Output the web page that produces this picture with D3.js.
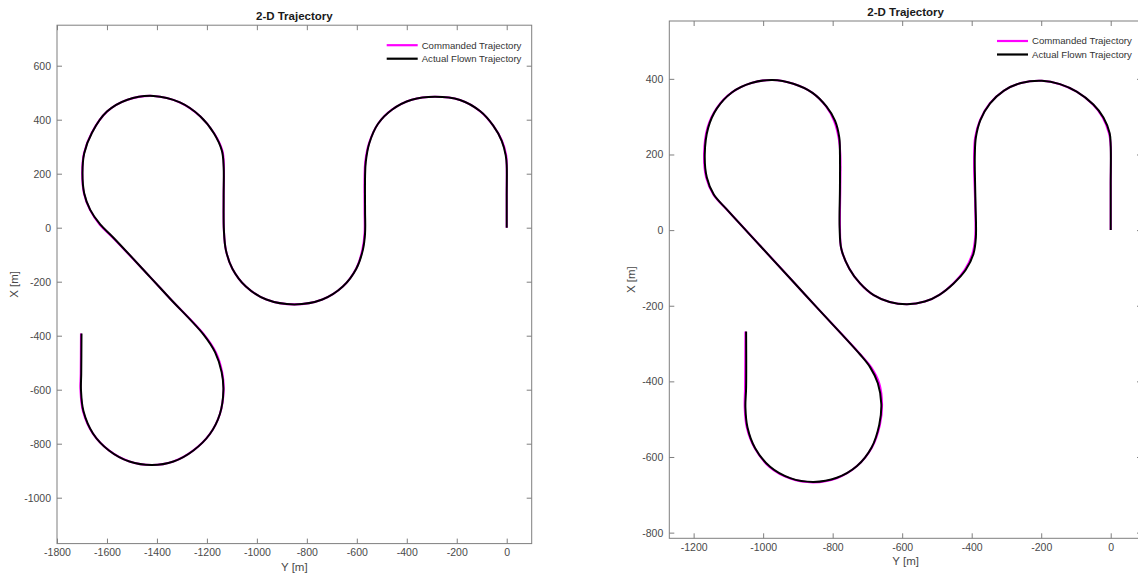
<!DOCTYPE html>
<html>
<head>
<meta charset="utf-8">
<script src="https://cdn.jsdelivr.net/npm/d3@7/dist/d3.min.js"></script>
<style>
  html, body { margin: 0; padding: 0; background: #ffffff; }
  svg { display: block; }
  text { font-family: "Liberation Sans", Arial, Helvetica, sans-serif; }
</style>
</head>
<body>
<svg id="chart" width="1138" height="575"></svg>
<script>
// ---------- DATA ----------
// Each point is [Y (m), X (m)]  -> horizontal axis is Y, vertical axis is X
const titleText = "2-D Trajectory";
const xAxisLabel = "Y [m]";
const yAxisLabel = "X [m]";
const seriesNames = ["Commanded Trajectory", "Actual Flown Trajectory"];

// Left panel
const leftYTicks = [-1800, -1600, -1400, -1200, -1000, -800, -600, -400, -200, 0];
const leftXTicks = [-1000, -800, -600, -400, -200, 0, 200, 400, 600];
const leftYLimits = [-1800, 100];
const leftXLimits = [-1170, 750];

const leftActual = [
  [0,0],[0,120],[0,232],[-4,268],[-20,322],[-54,378],[-107,432],[-187,473],[-287,485],
  [-380,474],[-458,438],[-515,385],[-550,313],[-564,245],[-567,189],[-567,66],[-567,-21],
  [-576,-83],[-602,-152],[-656,-218],[-738,-266],[-850,-284],[-962,-266],[-1044,-218],
  [-1098,-152],[-1124,-83],[-1132,-9],[-1133,115],[-1133,226],[-1140,285],[-1172,350],
  [-1226,412],[-1308,464],[-1414,488],[-1518,474],[-1600,430],[-1660,352],[-1691,276],
  [-1698,202],[-1691,127],[-1667,66],[-1627,12],[-1574,-37],[-1427,-183],[-1347,-263],
  [-1214,-395],[-1167,-462],[-1141,-535],[-1134,-601],[-1148,-690],[-1188,-764],
  [-1254,-825],[-1334,-866],[-1420,-879],[-1510,-866],[-1592,-825],[-1656,-762],
  [-1694,-680],[-1704,-601],[-1703,-539],[-1702,-392]
];
const leftCommanded = [
  [0,0],[0,120],[0,232],[-2,268],[-19,322],[-54,378],[-107,432],[-187,473],[-287,485],
  [-380,474],[-458,438],[-515,385],[-551,313],[-566,245],[-569,189],[-569,66],[-569,-21],
  [-578,-83],[-603,-152],[-656,-218],[-738,-266],[-850,-284],[-962,-266],[-1044,-218],
  [-1098,-152],[-1124,-83],[-1132,-9],[-1133,115],[-1132,226],[-1138,285],[-1171,350],
  [-1226,412],[-1308,464],[-1414,488],[-1518,474],[-1600,430],[-1661,352],[-1692,276],
  [-1699,202],[-1692,127],[-1668,66],[-1629,12],[-1576,-37],[-1427,-183],[-1347,-263],
  [-1212,-395],[-1164,-462],[-1139,-535],[-1133,-601],[-1148,-690],[-1188,-764],
  [-1254,-825],[-1334,-866],[-1420,-879],[-1510,-866],[-1592,-825],[-1657,-762],
  [-1696,-680],[-1706,-601],[-1705,-539],[-1704,-392]
];

// Right panel
const rightYTicks = [-1200, -1000, -800, -600, -400, -200, 0];
const rightXTicks = [-800, -600, -400, -200, 0, 200, 400];
const rightYLimits = [-1270, 90];
const rightXLimits = [-815, 553];

const rightActual = [
  [0,0],[0,120],[0,222],[-3,256],[-21,298],[-50,332],[-98,366],[-146,386],[-198,395],
  [-258,389],[-307,369],[-347,335],[-375,291],[-388,245],[-391,201],[-391,157],[-389,69],
  [-388,-20],[-395,-63],[-417,-105],[-452,-141],[-493,-171],[-535,-189],[-586,-196],
  [-636,-190],[-682,-172],[-721,-141],[-752,-102],[-775,-50],[-780,7],[-779,113],
  [-779,201],[-781,245],[-793,289],[-818,327],[-858,363],[-913,387],[-973,397],
  [-1034,389],[-1090,364],[-1133,322],[-1158,271],[-1168,201],[-1162,139],[-1142,94],
  [-1104,54],[-1008,-42],[-912,-138],[-845,-205],[-721,-329],[-692,-363],[-670,-405],
  [-660,-460],[-666,-515],[-688,-575],[-730,-624],[-788,-655],[-855,-666],[-922,-656],
  [-980,-626],[-1023,-577],[-1045,-522],[-1051,-469],[-1049,-416],[-1049,-268]
];
const rightCommanded = [
  [0,0],[0,120],[0,222],[-5,256],[-23,298],[-51,332],[-98,366],[-146,386],[-198,395],
  [-258,389],[-307,369],[-348,335],[-376,291],[-390,245],[-393,201],[-393,157],[-390,69],
  [-390,-20],[-398,-63],[-420,-105],[-453,-141],[-493,-171],[-535,-189],[-586,-196],
  [-636,-190],[-682,-172],[-721,-141],[-752,-102],[-775,-50],[-779,7],[-778,113],
  [-778,201],[-783,245],[-796,289],[-819,327],[-858,363],[-913,387],[-973,397],
  [-1034,389],[-1090,364],[-1134,322],[-1160,271],[-1170,201],[-1164,139],[-1143,94],
  [-1104,54],[-1008,-42],[-912,-138],[-845,-205],[-720,-329],[-689,-363],[-666,-405],
  [-658,-460],[-664,-515],[-687,-575],[-730,-624],[-788,-656],[-855,-667],[-922,-657],
  [-981,-627],[-1024,-577],[-1047,-522],[-1053,-469],[-1052,-416],[-1051,-268]
];

// ---------- DRAWING ----------
const svg = d3.select("#chart");
const COL_CMD = "#ff00ff";
const COL_ACT = "#000000";
const AXIS_COL = "#7f7f7f";
const TEXT_COL = "#4a4a4a";
const fmt = d => String(d);   // plain hyphen-minus like the reference

function drawPanel(cfg) {
  const x = d3.scaleLinear().domain(cfg.yLimits).range([cfg.left, cfg.right]);
  const y = d3.scaleLinear().domain(cfg.xLimits).range([cfg.bottom, cfg.top]);
  const g = svg.append("g");

  const clipId = "clip" + cfg.id;
  svg.append("clipPath").attr("id", clipId).append("rect")
    .attr("x", cfg.left).attr("y", cfg.top)
    .attr("width", cfg.right - cfg.left).attr("height", cfg.bottom - cfg.top);

  const tl = 5;
  const axB = d3.axisBottom(x).tickValues(cfg.yTicks).tickSize(-tl).tickPadding(5).tickFormat(fmt);
  const gb = g.append("g").attr("transform", `translate(0,${cfg.bottom})`).call(axB);
  const axT = d3.axisTop(x).tickValues(cfg.yTicks).tickSize(-tl).tickFormat("");
  const gt = g.append("g").attr("transform", `translate(0,${cfg.top})`).call(axT);
  const axL = d3.axisLeft(y).tickValues(cfg.xTicks).tickSize(-tl).tickPadding(6).tickFormat(fmt);
  const gl = g.append("g").attr("transform", `translate(${cfg.left},0)`).call(axL);
  const axR = d3.axisRight(y).tickValues(cfg.xTicks).tickSize(-tl).tickFormat("");
  const gr = g.append("g").attr("transform", `translate(${cfg.right},0)`).call(axR);

  [gb, gt, gl, gr].forEach(a => {
    a.select(".domain").remove();
    a.selectAll(".tick line").attr("stroke", AXIS_COL).attr("stroke-width", 1);
    a.selectAll(".tick text").attr("fill", TEXT_COL).style("font-size", "10.5px")
      .style("font-family", '"Liberation Sans", Arial, sans-serif');
  });
  gt.selectAll(".tick text").remove();
  gr.selectAll(".tick text").remove();

  g.append("rect")
    .attr("x", cfg.left).attr("y", cfg.top)
    .attr("width", cfg.right - cfg.left).attr("height", cfg.bottom - cfg.top)
    .attr("fill", "none").attr("stroke", AXIS_COL).attr("stroke-width", 1);

  const line = d3.line().x(d => x(d[0])).y(d => y(d[1])).curve(d3.curveCatmullRom.alpha(0.5));
  const lg = g.append("g").attr("clip-path", `url(#${clipId})`);
  lg.append("path").datum(cfg.commanded).attr("d", line)
    .attr("fill", "none").attr("stroke", COL_CMD).attr("stroke-width", 2.1)
    .attr("stroke-linejoin", "round");
  lg.append("path").datum(cfg.actual).attr("d", line)
    .attr("fill", "none").attr("stroke", COL_ACT).attr("stroke-width", 2)
    .attr("stroke-linejoin", "round");

  g.append("text")
    .attr("x", (cfg.left + cfg.right) / 2).attr("y", cfg.top - 5)
    .attr("text-anchor", "middle").style("font-size", "11.5px").style("font-weight", "bold")
    .attr("fill", "#1a1a1a").text(titleText);

  g.append("text")
    .attr("x", (cfg.left + cfg.right) / 2).attr("y", cfg.bottom + 27)
    .attr("text-anchor", "middle").style("font-size", "11.5px").attr("fill", TEXT_COL)
    .text(xAxisLabel);
  g.append("text")
    .attr("transform", `translate(${cfg.ylabelX},${(cfg.top + cfg.bottom) / 2}) rotate(-90)`)
    .attr("text-anchor", "middle").style("font-size", "11.5px").attr("fill", TEXT_COL)
    .text(yAxisLabel);

  const lx0 = cfg.right - 145, lx1 = cfg.right - 114, tx = cfg.right - 110;
  const rows = [cfg.top + 20, cfg.top + 33.5];
  [COL_CMD, COL_ACT].forEach((c, i) => {
    g.append("line").attr("x1", lx0).attr("x2", lx1).attr("y1", rows[i]).attr("y2", rows[i])
      .attr("stroke", c).attr("stroke-width", 2.2);
    g.append("text").attr("x", tx).attr("y", rows[i] + 3.4)
      .style("font-size", "9.6px").attr("fill", "#333333").text(seriesNames[i]);
  });
}

drawPanel({
  id: "L", left: 57, right: 531.7, top: 25.2, bottom: 543.6, ylabelX: 18,
  yLimits: leftYLimits, xLimits: leftXLimits, yTicks: leftYTicks, xTicks: leftXTicks,
  actual: leftActual, commanded: leftCommanded
});
drawPanel({
  id: "R", left: 669.3, right: 1142, top: 21, bottom: 538.3, ylabelX: 635,
  yLimits: rightYLimits, xLimits: rightXLimits, yTicks: rightYTicks, xTicks: rightXTicks,
  actual: rightActual, commanded: rightCommanded
});
</script>
</body>
</html>
